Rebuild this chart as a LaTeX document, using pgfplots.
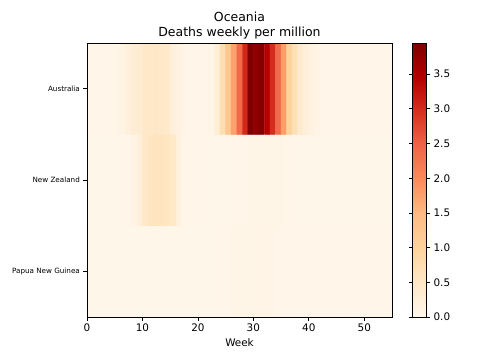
\documentclass[border=0pt]{standalone}
\usepackage{pgfplots}
\pgfplotsset{compat=1.18}
\usepackage{fontspec}
\setmainfont{DejaVu Sans}
\pgfplotsset{/pgf/number format/assume math mode=true}
\begin{document}
\begin{tikzpicture}
\useasboundingbox (-87bp,-43bp) rectangle (393bp,317bp);
\begin{axis}[
 scale only axis, width=305bp, height=274bp,
 at={(0,0)}, anchor=south west,
 xmin=0, xmax=55, ymin=-0.5, ymax=2.5,
 xtick={0,10,...,50}, ytick={0,1,2},
 yticklabels={Papua New Guinea,New Zealand,Australia},
 yticklabel style={font=\fontsize{7.2bp}{8bp}\selectfont},
 xticklabel style={font=\fontsize{10.4bp}{12bp}\selectfont},
 xtick pos=bottom, ytick pos=left, tick align=outside,
 major tick length=3.6bp,
 axis line style={line width=0.8bp},
 every tick/.style={line width=0.8bp, black},
 title={Oceania\\Deaths weekly per million},
 title style={align=center, font=\fontsize{12.5bp}{15bp}\selectfont, yshift=-6bp},
 xlabel={Week},
 xlabel style={font=\fontsize{10.4bp}{12bp}\selectfont},
 colormap={OrRd}{rgb255=(255,247,236) rgb255=(254,232,200) rgb255=(253,212,158) rgb255=(253,187,132) rgb255=(252,141,89) rgb255=(239,101,72) rgb255=(215,48,31) rgb255=(179,0,0) rgb255=(127,0,0)},
 point meta min=0, point meta max=3.95,
 colorbar,
 colorbar style={
   width=14bp,
   at={(parent axis.north east)}, anchor=north west, xshift=12bp,
   ytick={0,0.5,1,1.5,2,2.5,3,3.5},
   yticklabel style={font=\fontsize{10.4bp}{12bp}\selectfont, /pgf/number format/.cd, fixed, fixed zerofill, precision=1},
   tick align=outside, major tick length=3.6bp,
   axis line style={line width=0.8bp},
   every tick/.style={line width=0.8bp, black},
 },
 axis on top,
]
\addplot[matrix plot*, mesh/cols=55, point meta=explicit] coordinates {
(0.5,0)[0.03] (1.5,0)[0.03] (2.5,0)[0.03] (3.5,0)[0.03] (4.5,0)[0.03] (5.5,0)[0.03] (6.5,0)[0.03] (7.5,0)[0.03] (8.5,0)[0.03] (9.5,0)[0.03]
(10.5,0)[0.03] (11.5,0)[0.03] (12.5,0)[0.03] (13.5,0)[0.03] (14.5,0)[0.03] (15.5,0)[0.03] (16.5,0)[0.03] (17.5,0)[0.03] (18.5,0)[0.03] (19.5,0)[0.03]
(20.5,0)[0.03] (21.5,0)[0.03] (22.5,0)[0.03] (23.5,0)[0.05] (24.5,0)[0.05] (25.5,0)[0.05] (26.5,0)[0.07] (27.5,0)[0.07] (28.5,0)[0.07] (29.5,0)[0.07]
(30.5,0)[0.09] (31.5,0)[0.09] (32.5,0)[0.09] (33.5,0)[0.09] (34.5,0)[0.06] (35.5,0)[0.06] (36.5,0)[0.06] (37.5,0)[0.04] (38.5,0)[0.04] (39.5,0)[0.04]
(40.5,0)[0.04] (41.5,0)[0.04] (42.5,0)[0.04] (43.5,0)[0.04] (44.5,0)[0.06] (45.5,0)[0.06] (46.5,0)[0.06] (47.5,0)[0.06] (48.5,0)[0.06] (49.5,0)[0.06]
(50.5,0)[0.05] (51.5,0)[0.05] (52.5,0)[0.05] (53.5,0)[0.05] (54.5,0)[0.05]

(0.5,1)[0.03] (1.5,1)[0.03] (2.5,1)[0.03] (3.5,1)[0.03] (4.5,1)[0.03] (5.5,1)[0.03] (6.5,1)[0.06] (7.5,1)[0.06] (8.5,1)[0.12] (9.5,1)[0.25]
(10.5,1)[0.5] (11.5,1)[0.58] (12.5,1)[0.6] (13.5,1)[0.6] (14.5,1)[0.55] (15.5,1)[0.5] (16.5,1)[0.2] (17.5,1)[0.06] (18.5,1)[0.06] (19.5,1)[0.06]
(20.5,1)[0.06] (21.5,1)[0.06] (22.5,1)[0.03] (23.5,1)[0.03] (24.5,1)[0.03] (25.5,1)[0.03] (26.5,1)[0.05] (27.5,1)[0.05] (28.5,1)[0.05] (29.5,1)[0.08]
(30.5,1)[0.08] (31.5,1)[0.08] (32.5,1)[0.08] (33.5,1)[0.08] (34.5,1)[0.08] (35.5,1)[0.08] (36.5,1)[0.05] (37.5,1)[0.03] (38.5,1)[0.03] (39.5,1)[0.03]
(40.5,1)[0.03] (41.5,1)[0.03] (42.5,1)[0.03] (43.5,1)[0.03] (44.5,1)[0.03] (45.5,1)[0.03] (46.5,1)[0.03] (47.5,1)[0.03] (48.5,1)[0.03] (49.5,1)[0.03]
(50.5,1)[0.03] (51.5,1)[0.03] (52.5,1)[0.03] (53.5,1)[0.03] (54.5,1)[0.03]

(0.5,2)[0.04] (1.5,2)[0.04] (2.5,2)[0.04] (3.5,2)[0.05] (4.5,2)[0.05] (5.5,2)[0.07] (6.5,2)[0.12] (7.5,2)[0.22] (8.5,2)[0.32] (9.5,2)[0.35]
(10.5,2)[0.48] (11.5,2)[0.5] (12.5,2)[0.52] (13.5,2)[0.5] (14.5,2)[0.45] (15.5,2)[0.25] (16.5,2)[0.15] (17.5,2)[0.1] (18.5,2)[0.05] (19.5,2)[0.04]
(20.5,2)[0.04] (21.5,2)[0.05] (22.5,2)[0.08] (23.5,2)[0.3] (24.5,2)[0.75] (25.5,2)[1.25] (26.5,2)[1.75] (27.5,2)[2.4] (28.5,2)[3.05] (29.5,2)[3.95]
(30.5,2)[3.8] (31.5,2)[3.9] (32.5,2)[3.45] (33.5,2)[3.0] (34.5,2)[2.4] (35.5,2)[1.8] (36.5,2)[1.0] (37.5,2)[0.7] (38.5,2)[0.4] (39.5,2)[0.25]
(40.5,2)[0.15] (41.5,2)[0.1] (42.5,2)[0.06] (43.5,2)[0.04] (44.5,2)[0.04] (45.5,2)[0.04] (46.5,2)[0.04] (47.5,2)[0.04] (48.5,2)[0.04] (49.5,2)[0.04]
(50.5,2)[0.04] (51.5,2)[0.04] (52.5,2)[0.04] (53.5,2)[0.04] (54.5,2)[0.04]
};
\end{axis}
\end{tikzpicture}
\end{document}
